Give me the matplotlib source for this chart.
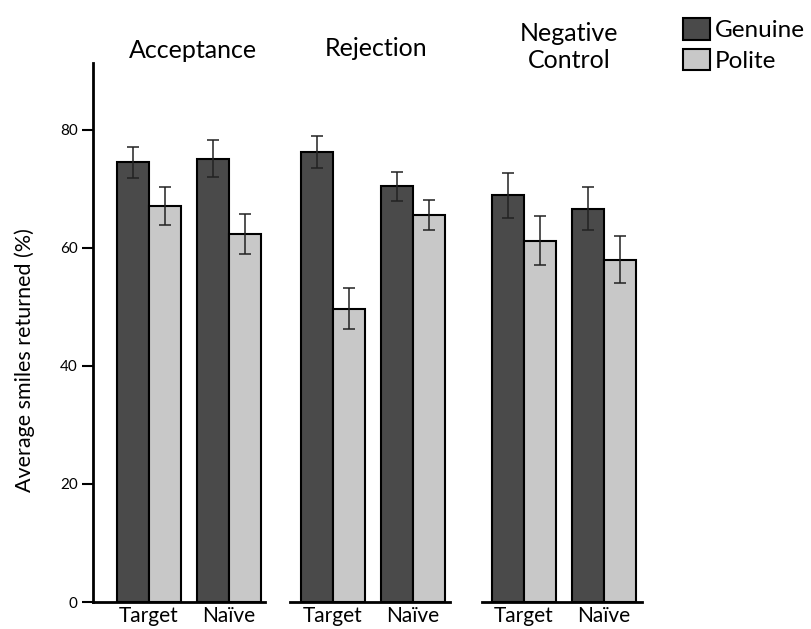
import matplotlib
matplotlib.use("Agg")
import matplotlib.pyplot as plt
import numpy as np

plt.rcParams['font.family'] = ['Lato', 'DejaVu Sans']

conditions = ["Acceptance", "Rejection", "Negative\nControl"]
groups = ["Target", "Naïve"]
series = ["Genuine", "Polite"]
genuine = [[74.5, 75.1], [76.2, 70.4], [68.9, 66.6]]
genuine_err = [[2.6, 3.1], [2.7, 2.45], [3.8, 3.65]]
polite = [[67.1, 62.3], [49.7, 65.6], [61.2, 58.0]]
polite_err = [[3.2, 3.4], [3.5, 2.55], [4.1, 3.95]]
yticks = [0, 20, 40, 60, 80]

colors = ["#4a4a4a", "#c8c8c8"]

W, H = 811, 629
fig = plt.figure(figsize=(W / 100, H / 100), dpi=100)

# layout in pixels: (axis left, axis right, first group center)
panels = [(93, 265, 149), (290, 450, 333), (482, 642, 524)]
unit = 80.0
bw = 0.4
y_bottom, y_top = 602, 63
ymax = 91.3
title_pos = [(193, 50), (376, 48), (569, 47)]

handles = None
for i, (l, r, c0) in enumerate(panels):
    ax = fig.add_axes([l / W, 1 - y_bottom / H, (r - l) / W, (y_bottom - y_top) / H])
    x = np.arange(len(groups))
    b1 = ax.bar(x - bw / 2, genuine[i], bw, color=colors[0], edgecolor="black",
                linewidth=1.5, label=series[0], zorder=2)
    b2 = ax.bar(x + bw / 2, polite[i], bw, color=colors[1], edgecolor="black",
                linewidth=1.5, label=series[1], zorder=2)
    ax.errorbar(x - bw / 2, genuine[i], yerr=genuine_err[i], fmt="none",
                ecolor="#222222", elinewidth=1.1, capsize=4, capthick=1.1, zorder=3)
    ax.errorbar(x + bw / 2, polite[i], yerr=polite_err[i], fmt="none",
                ecolor="#222222", elinewidth=1.1, capsize=4, capthick=1.1, zorder=3)
    handles = [b1, b2]
    ax.set_xlim((l - c0) / unit, (r - c0) / unit)
    ax.set_ylim(0, ymax)
    for s in ["top", "right"]:
        ax.spines[s].set_visible(False)
    ax.spines["bottom"].set_linewidth(2)
    ax.set_xticks(x)
    ax.set_xticklabels(groups, fontsize=15)
    ax.tick_params(axis="x", length=0, pad=3)
    if i == 0:
        ax.spines["left"].set_linewidth(2)
        ax.set_yticks(yticks)
        ax.set_yticklabels([str(t) for t in yticks], fontsize=11)
        ax.tick_params(axis="y", length=8, width=1.5, pad=3)
        ax.set_ylabel("Average smiles returned (%)", fontsize=15.5)
        ax.yaxis.set_label_coords((35 - l) / (r - l), (y_bottom - 360) / (y_bottom - y_top))
    else:
        ax.spines["left"].set_visible(False)
        ax.set_yticks([])
    tx, ty = title_pos[i]
    fig.text(tx / W, 1 - ty / H, conditions[i], ha="center", va="center",
             fontsize=18, linespacing=1.22)

fig.legend(handles, series, loc="upper left", bbox_to_anchor=(666 / W, 1 - 1 / H),
           frameon=False, fontsize=17.5, handlelength=1.1, handleheight=1.0,
           handletextpad=0.2, labelspacing=0.3, borderpad=0.2)

fig.savefig("out.png", dpi=100)
